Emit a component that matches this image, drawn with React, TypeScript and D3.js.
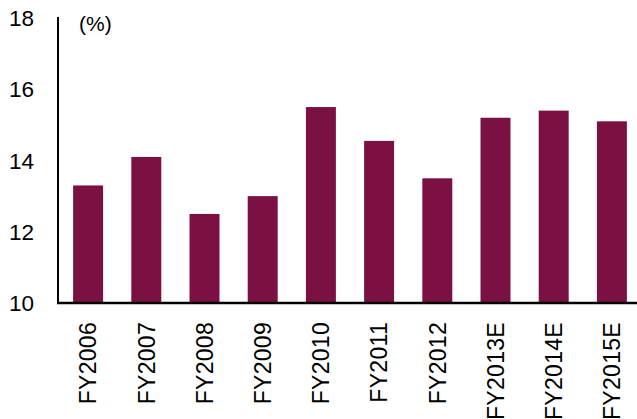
import React from "react";
import * as d3 from "d3";

const categories = ["FY2006", "FY2007", "FY2008", "FY2009", "FY2010", "FY2011", "FY2012", "FY2013E", "FY2014E", "FY2015E"];
const values = [13.3, 14.1, 12.5, 13.0, 15.5, 14.55, 13.5, 15.2, 15.4, 15.1];
const yTicks = [10, 12, 14, 16, 18];
const unitLabel = "(%)";

const W = 637;
const H = 419;
const FONT = "Arial, 'Liberation Sans', Helvetica, sans-serif";
const BAR = "#7B1142";

export default function App() {
  const x = d3.scaleBand<string>().domain(categories).range([59, 641]).paddingInner(0.485).paddingOuter(0.2425);
  const y = d3.scaleLinear().domain([10, 18]).range([303, 18]);
  const axisX = 58;

  return (
    <svg width={W} height={H} style={{ position: "absolute", left: 0, top: 0, background: "#fff" }} fontFamily={FONT}>
      {categories.map((c, i) => (
        <rect key={c} x={x(c)} y={y(values[i])} width={x.bandwidth()} height={y(10) - y(values[i])} fill={BAR} />
      ))}
      <line x1={axisX} x2={axisX} y1={y(18) - 1} y2={y(10) + 1} stroke="#000" strokeWidth={2} />
      <line x1={axisX - 1} x2={W} y1={y(10)} y2={y(10)} stroke="#000" strokeWidth={2.5} />
      {yTicks.map((t) => (
        <text key={t} x={34} y={y(t)} dy="0.36em" textAnchor="end" fontSize={22.5} fill="#000">
          {t}
        </text>
      ))}
      <text x={79} y={31} fontSize={21} fill="#000">{unitLabel}</text>
      {categories.map((c) => {
        const cx = (x(c) as number) + x.bandwidth() / 2;
        return (
          <text key={c} transform={`translate(${cx},322) rotate(-90)`} textAnchor="end" dy="0.36em" fontSize={23} letterSpacing={0.3} fill="#000">
            {c}
          </text>
        );
      })}
    </svg>
  );
}
